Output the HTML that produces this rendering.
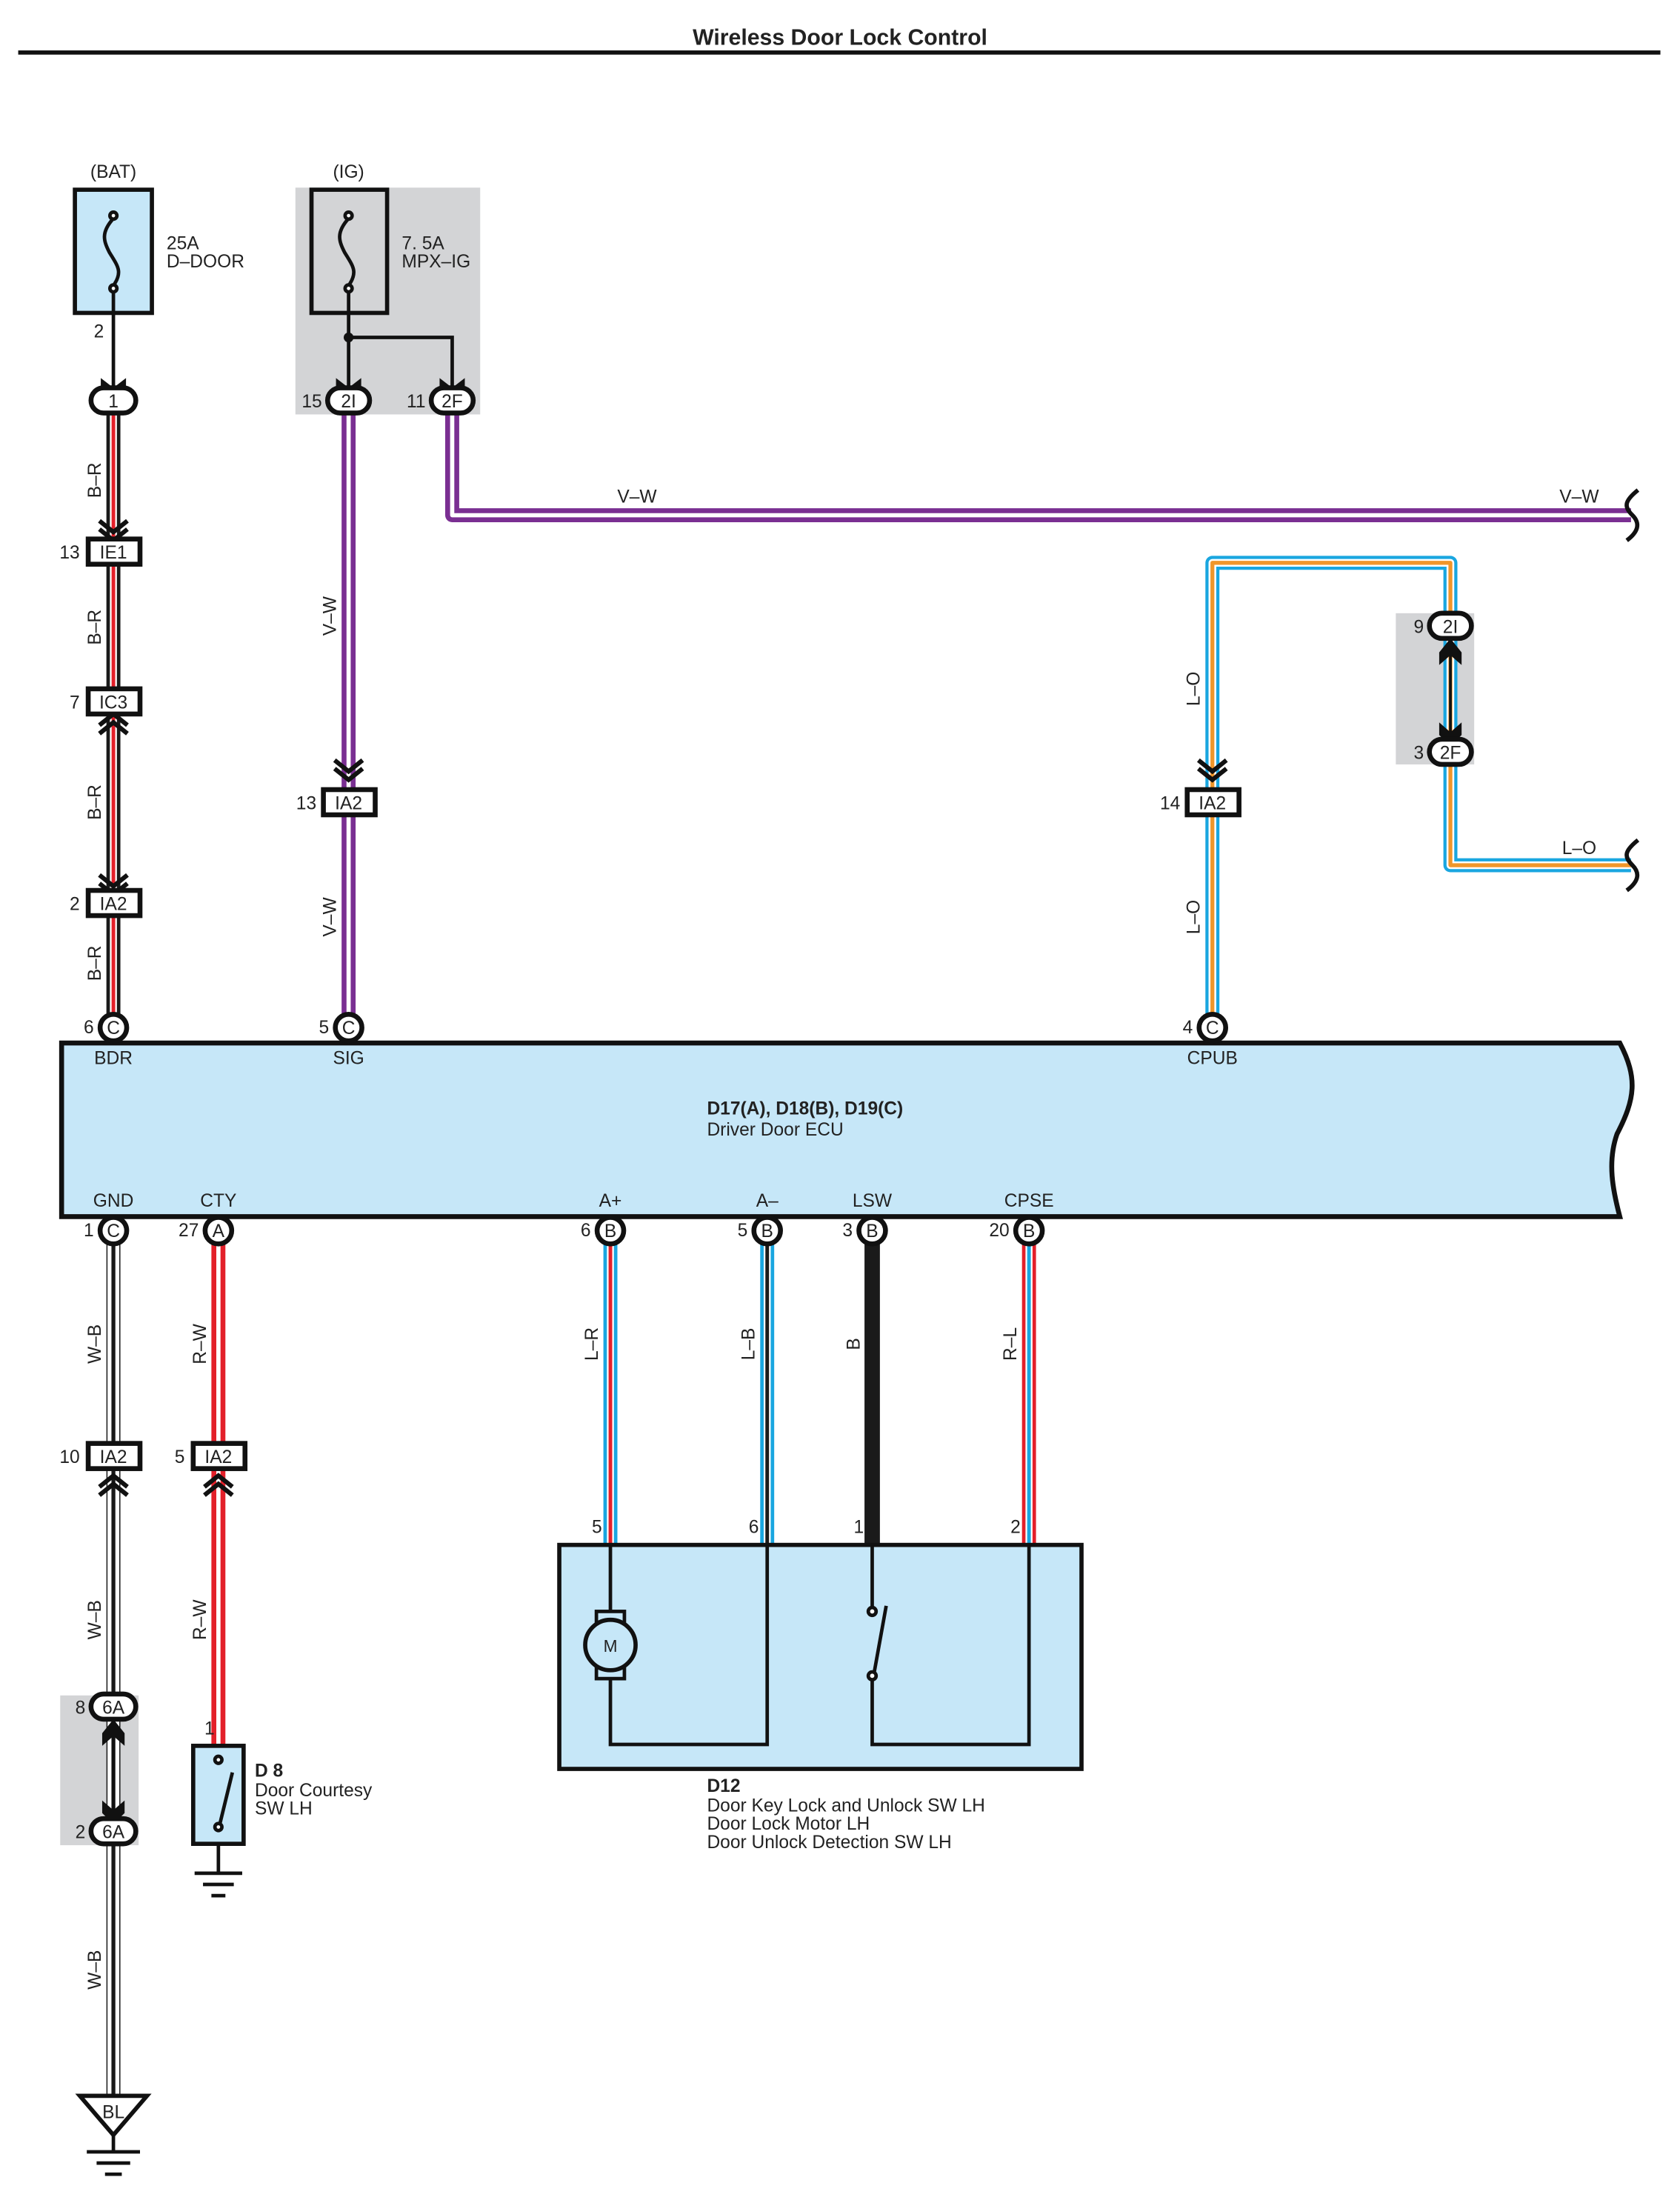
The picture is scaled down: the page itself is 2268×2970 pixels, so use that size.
<!DOCTYPE html>
<html><head><meta charset="utf-8"><style>
html,body{margin:0;padding:0;background:#fff}
svg{display:block}
text{font-family:"Liberation Sans Narrow","Liberation Sans",sans-serif;fill:#222}
.t{font-size:13px}
.s{font-size:12px}
.p{font-size:13px}
</style></head><body>
<svg width="2268" height="2970" viewBox="0 0 1200 1571.4" xmlns="http://www.w3.org/2000/svg">
<defs>
<path id="wBR" d="M81,294 V733"/>
<path id="wSIG" d="M249,294 V733"/>
<path id="wVW" d="M323,294 V368 H1165"/>
<path id="wLO" d="M866,733 V402 H1036 V618 H1165"/>
<path id="wGND" d="M81,888 V1497"/>
<path id="wCTY" d="M156,888 V1247"/>
<path id="wLR" d="M436,888 V1103"/>
<path id="wLB" d="M548,888 V1103"/>
<path id="wRL" d="M735,888 V1103"/>
</defs>
<text x="600" y="32" text-anchor="middle" style="font-family:'Liberation Sans',sans-serif;font-weight:bold;font-size:16px">Wireless Door Lock Control</text>
<rect x="13" y="36" width="1173" height="3" fill="#111"/>

<rect x="211" y="134" width="132" height="162" fill="#d3d4d6"/>
<rect x="997" y="438" width="56" height="108" fill="#d3d4d6"/>
<rect x="43" y="1211" width="56" height="107" fill="#d3d4d6"/>

<g fill="none" stroke-linejoin="round">
<use href="#wBR" stroke="#1a1a1a" stroke-width="10"/><use href="#wBR" stroke="#fff" stroke-width="5"/><use href="#wBR" stroke="#e3202a" stroke-width="2.6"/>
<use href="#wSIG" stroke="#7a2f92" stroke-width="10"/><use href="#wSIG" stroke="#fff" stroke-width="3"/>
<use href="#wVW" stroke="#7a2f92" stroke-width="10"/><use href="#wVW" stroke="#fff" stroke-width="3"/>
<use href="#wLO" stroke="#19a6e0" stroke-width="10"/><use href="#wLO" stroke="#fff" stroke-width="5.5"/><use href="#wLO" stroke="#f0962a" stroke-width="2.8"/>
<use href="#wGND" stroke="#1a1a1a" stroke-width="10"/><use href="#wGND" stroke="#fff" stroke-width="8.4"/><use href="#wGND" stroke="#1a1a1a" stroke-width="2.8"/>
<use href="#wCTY" stroke="#e3202a" stroke-width="10"/><use href="#wCTY" stroke="#fff" stroke-width="3"/>
<use href="#wLR" stroke="#19a6e0" stroke-width="10"/><use href="#wLR" stroke="#fff" stroke-width="5"/><use href="#wLR" stroke="#e3202a" stroke-width="2.6"/>
<use href="#wLB" stroke="#19a6e0" stroke-width="10"/><use href="#wLB" stroke="#fff" stroke-width="5"/><use href="#wLB" stroke="#1a1a1a" stroke-width="2.6"/>
<use href="#wRL" stroke="#e3202a" stroke-width="10"/><use href="#wRL" stroke="#fff" stroke-width="5"/><use href="#wRL" stroke="#19a6e0" stroke-width="2.6"/>
<path d="M623,888 V1103" stroke="#1a1a1a" stroke-width="11"/>
</g>

<g fill="none" stroke="#111" stroke-width="3">
<path d="M1170,350 C1160,358 1160,362 1166,368 C1172,374 1170,380 1162,386"/>
<path d="M1170,600 C1160,608 1160,612 1166,618 C1172,624 1170,630 1162,636"/>
</g>

<text x="81" y="127" text-anchor="middle" class="t">(BAT)</text>
<rect x="53.5" y="135.5" width="55" height="88" fill="#c6e7f8" stroke="#111" stroke-width="3"/>
<text x="119" y="178" class="t">25A</text><text x="119" y="191" class="t">D–DOOR</text>
<text x="249" y="127" text-anchor="middle" class="t">(IG)</text>
<rect x="222.5" y="135.5" width="54" height="88" fill="#d3d4d6" stroke="#111" stroke-width="3"/>
<text x="287" y="178" class="t">7. 5A</text><text x="287" y="191" class="t">MPX–IG</text>
<g fill="none" stroke="#111" stroke-width="2.5">
<path d="M81,156 C72,166 74,172 78,180 C84,190 88,194 81,204"/>
<circle cx="81" cy="154" r="2.5" fill="#fff"/><circle cx="81" cy="206" r="2.5" fill="#fff"/>
<path d="M249,156 C240,166 242,172 246,180 C252,190 256,194 249,204"/>
<circle cx="249" cy="154" r="2.5" fill="#fff"/><circle cx="249" cy="206" r="2.5" fill="#fff"/>
<path d="M81,209 V282"/>
<path d="M249,209 V282 M249,241 H323 V282"/>
</g>
<circle cx="249" cy="241" r="3.5" fill="#111"/>
<text x="67" y="241" class="t">2</text>
<g fill="#111">
<path d="M72,270 L81,277 L90,270 L90,280 L81,287 L72,280 Z"/>
<path d="M240,270 L249,277 L258,270 L258,280 L249,287 L240,280 Z"/>
<path d="M314,270 L323,277 L332,270 L332,280 L323,287 L314,280 Z"/>
<path d="M1036,455 V528" stroke="#111" stroke-width="2" fill="none"/>
<path d="M1028,466 L1036,456 L1044,466 L1044,475 L1036,468 L1028,475 Z"/>
<path d="M1028,516 L1036,523 L1044,516 L1044,525 L1036,533 L1028,525 Z"/>
<path d="M81,1226 V1298" stroke="#111" stroke-width="2" fill="none"/>
<path d="M73,1238 L81,1228 L89,1238 L89,1247 L81,1240 L73,1247 Z"/>
<path d="M73,1286 L81,1293 L89,1286 L89,1295 L81,1303 L73,1295 Z"/>
</g>

<g stroke="#111" stroke-width="3.5" fill="#fff">
<rect x="65" y="277" width="32" height="18" rx="9"/>
<rect x="234" y="277" width="30" height="18" rx="9"/>
<rect x="308" y="277" width="30" height="18" rx="9"/>
<rect x="1021" y="438" width="30" height="18" rx="9"/>
<rect x="1021" y="528" width="30" height="18" rx="9"/>
<rect x="65" y="1210" width="32" height="18" rx="9"/>
<rect x="65" y="1299" width="32" height="18" rx="9"/>
</g>
<g class="p" text-anchor="middle">
<text x="81" y="291">1</text><text x="249" y="291">2I</text><text x="323" y="291">2F</text>
<text x="1036" y="452">2I</text><text x="1036" y="542">2F</text>
<text x="81" y="1224">6A</text><text x="81" y="1313">6A</text>
</g>
<g class="t" text-anchor="end">
<text x="230" y="291">15</text><text x="304" y="291">11</text>
<text x="1017" y="452">9</text><text x="1017" y="542">3</text>
<text x="61" y="1224">8</text><text x="61" y="1313">2</text>
</g>

<g fill="none" stroke="#111" stroke-width="3.2">
<path d="M71,372 L81,380 L91,372 M71,378 L81,386 L91,378"/>
<path d="M71,518 L81,510 L91,518 M71,524 L81,516 L91,524"/>
<path d="M71,625 L81,633 L91,625 M71,631 L81,639 L91,631"/>
<path d="M239,543 L249,551 L259,543 M239,549 L249,557 L259,549"/>
<path d="M856,543 L866,551 L876,543 M856,549 L866,557 L876,549"/>
<path d="M71,1062 L81,1054 L91,1062 M71,1068 L81,1060 L91,1068"/>
<path d="M146,1062 L156,1054 L166,1062 M146,1068 L156,1060 L166,1068"/>
</g>

<g stroke="#111" stroke-width="3.5" fill="#fff">
<rect x="63" y="385" width="37" height="18"/>
<rect x="63" y="492" width="37" height="18"/>
<rect x="63" y="636" width="37" height="18"/>
<rect x="231" y="564" width="37" height="18"/>
<rect x="848" y="564" width="37" height="18"/>
<rect x="63" y="1031" width="37" height="18"/>
<rect x="138" y="1031" width="37" height="18"/>
</g>
<g class="p" text-anchor="middle">
<text x="81" y="399">IE1</text><text x="81" y="506">IC3</text><text x="81" y="650">IA2</text>
<text x="249" y="578">IA2</text><text x="866" y="578">IA2</text>
<text x="81" y="1045">IA2</text><text x="156" y="1045">IA2</text>
</g>
<g class="t" text-anchor="end">
<text x="57" y="399">13</text><text x="57" y="506">7</text><text x="57" y="650">2</text>
<text x="226" y="578">13</text><text x="843" y="578">14</text>
<text x="57" y="1045">10</text><text x="132" y="1045">5</text>
</g>

<g class="t" text-anchor="middle">
<text transform="translate(72,343) rotate(-90)">B–R</text>
<text transform="translate(72,448) rotate(-90)">B–R</text>
<text transform="translate(72,573) rotate(-90)">B–R</text>
<text transform="translate(72,688) rotate(-90)">B–R</text>
<text transform="translate(240,440) rotate(-90)">V–W</text>
<text transform="translate(240,655) rotate(-90)">V–W</text>
<text transform="translate(857,492) rotate(-90)">L–O</text>
<text transform="translate(857,655) rotate(-90)">L–O</text>
<text transform="translate(72,960) rotate(-90)">W–B</text>
<text transform="translate(72,1157) rotate(-90)">W–B</text>
<text transform="translate(72,1407) rotate(-90)">W–B</text>
<text transform="translate(147,960) rotate(-90)">R–W</text>
<text transform="translate(147,1157) rotate(-90)">R–W</text>
<text transform="translate(427,960) rotate(-90)">L–R</text>
<text transform="translate(539,960) rotate(-90)">L–B</text>
<text transform="translate(614,960) rotate(-90)">B</text>
<text transform="translate(726,960) rotate(-90)">R–L</text>
<text x="455" y="359">V–W</text><text x="1128" y="359">V–W</text>
<text x="1128" y="610">L–O</text>
</g>

<path d="M44,745 H1157 C1170,770 1168,785 1155,810 C1148,830 1152,850 1157,869 H44 Z" fill="#c6e7f8" stroke="#111" stroke-width="3.5"/>
<text x="505" y="796" class="t" style="font-weight:bold">D17(A), D18(B), D19(C)</text>
<text x="505" y="811" class="t">Driver Door ECU</text>
<g class="t" text-anchor="middle">
<text x="81" y="760">BDR</text><text x="249" y="760">SIG</text><text x="866" y="760">CPUB</text>
<text x="81" y="862">GND</text><text x="156" y="862">CTY</text><text x="436" y="862">A+</text>
<text x="548" y="862">A–</text><text x="623" y="862">LSW</text><text x="735" y="862">CPSE</text>
</g>
<g stroke="#111" stroke-width="3.5" fill="#fff">
<circle cx="81" cy="734" r="9.5"/><circle cx="249" cy="734" r="9.5"/><circle cx="866" cy="734" r="9.5"/>
<circle cx="81" cy="879" r="9.5"/><circle cx="156" cy="879" r="9.5"/><circle cx="436" cy="879" r="9.5"/>
<circle cx="548" cy="879" r="9.5"/><circle cx="623" cy="879" r="9.5"/><circle cx="735" cy="879" r="9.5"/>
</g>
<g class="p" text-anchor="middle">
<text x="81" y="738.5">C</text><text x="249" y="738.5">C</text><text x="866" y="738.5">C</text>
<text x="81" y="883.5">C</text><text x="156" y="883.5">A</text><text x="436" y="883.5">B</text>
<text x="548" y="883.5">B</text><text x="623" y="883.5">B</text><text x="735" y="883.5">B</text>
</g>
<g class="t" text-anchor="end">
<text x="67" y="738">6</text><text x="235" y="738">5</text><text x="852" y="738">4</text>
<text x="67" y="883">1</text><text x="142" y="883">27</text><text x="422" y="883">6</text>
<text x="534" y="883">5</text><text x="609" y="883">3</text><text x="721" y="883">20</text>
</g>

<rect x="138" y="1247" width="36" height="70" fill="#c6e7f8" stroke="#111" stroke-width="3"/>
<g fill="none" stroke="#111" stroke-width="2.5">
<circle cx="156" cy="1257" r="2.5" fill="#fff"/><circle cx="156" cy="1305" r="2.5" fill="#fff"/>
<path d="M157,1303 L166,1266"/>
<path d="M156,1318 V1337 M139,1338 H173 M145,1346 H167 M151,1354 H161"/>
</g>
<text x="146" y="1239" class="t">1</text>
<text x="182" y="1269" class="t" style="font-weight:bold;font-family:'Liberation Sans',sans-serif">D 8</text>
<text x="182" y="1283" class="t" style="font-family:'Liberation Sans',sans-serif">Door Courtesy</text>
<text x="182" y="1296" class="t" style="font-family:'Liberation Sans',sans-serif">SW LH</text>

<path d="M57,1497 H105 L81,1525 Z" fill="#fff" stroke="#111" stroke-width="3"/>
<text x="81" y="1513" text-anchor="middle" class="t">BL</text>
<g stroke="#111" stroke-width="2.5"><path d="M81,1525 V1536 M62,1537 H100 M69,1545 H93 M75,1553 H87"/></g>

<rect x="399.5" y="1103.5" width="373" height="160" fill="#c6e7f8" stroke="#111" stroke-width="3"/>
<g fill="none" stroke="#111" stroke-width="2.5">
<path d="M436,1104 V1152 M436,1198 V1246 H548 V1104"/>
<path d="M623,1104 V1148 M623,1200 V1246 H735 V1104"/>
<path d="M624,1197 L633,1147"/>
</g>
<circle cx="623" cy="1151" r="2.8" fill="#fff" stroke="#111" stroke-width="2.5"/>
<circle cx="623" cy="1197" r="2.8" fill="#fff" stroke="#111" stroke-width="2.5"/>
<rect x="426" y="1151" width="20" height="48" fill="#c6e7f8" stroke="#111" stroke-width="2.5"/>
<circle cx="436" cy="1175" r="18" fill="#c6e7f8" stroke="#111" stroke-width="3"/>
<text x="436" y="1180" text-anchor="middle" class="s">M</text>
<g class="t" text-anchor="end">
<text x="430" y="1095">5</text><text x="542" y="1095">6</text><text x="617" y="1095">1</text><text x="729" y="1095">2</text>
</g>
<g class="t" style="font-family:'Liberation Sans',sans-serif">
<text x="505" y="1280" style="font-weight:bold">D12</text>
<text x="505" y="1294">Door Key Lock and Unlock SW LH</text>
<text x="505" y="1307">Door Lock Motor LH</text>
<text x="505" y="1320">Door Unlock Detection SW LH</text>
</g>
</svg>
</body></html>
